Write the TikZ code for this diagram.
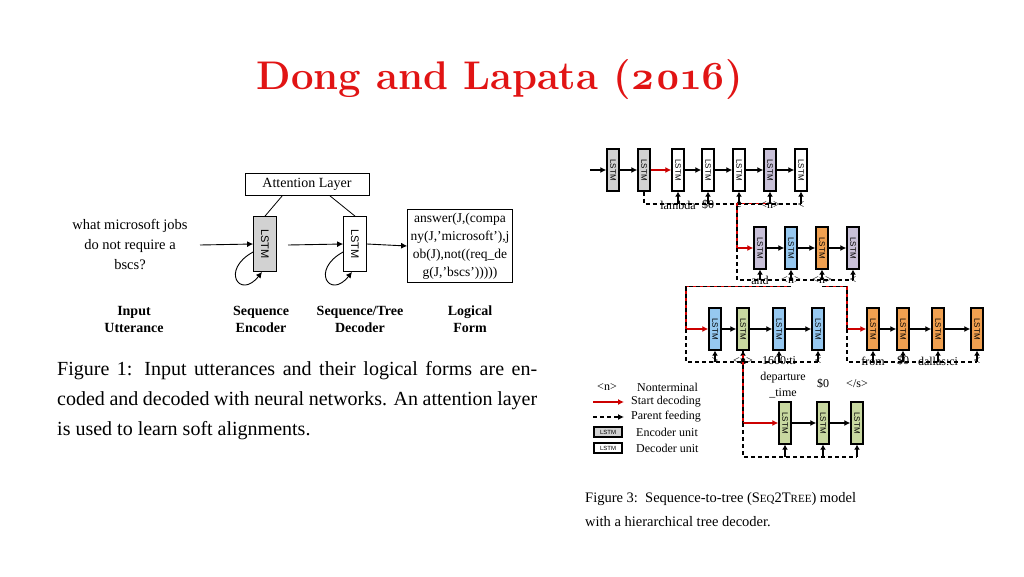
\documentclass[tikz,border=0pt]{standalone}
\usepackage{fontspec}
\setmainfont{Liberation Serif}
\setsansfont{Liberation Sans}
\newfontfamily\titlefont[Numbers=OldStyle]{Latin Modern Roman}
\usetikzlibrary{arrows.meta}
\definecolor{encg}{RGB}{210,210,210}
\definecolor{purp}{RGB}{200,192,216}
\definecolor{blu}{RGB}{150,200,240}
\definecolor{org}{RGB}{240,160,80}
\definecolor{grn}{RGB}{200,216,160}
\definecolor{ttl}{RGB}{225,20,20}
\newcommand\LS{\rotatebox{-90}{\sffamily\fontsize{8}{8}\selectfont LSTM}}
\begin{document}
\begin{tikzpicture}[x=1pt,y=-1pt,
 lstm/.style={draw,line width=1.4pt,minimum width=12pt,minimum height=42pt,inner sep=0pt,fill=#1},
 lstm/.default=white,
 ar/.style={-{Latex[length=6pt,width=6pt]},line width=1.2pt},
 rar/.style={ar,red!80!black},
 pf/.style={line width=1.2pt,dashed,dash pattern=on 4pt off 3pt},
 rb/.style={pf,preaction={draw,red!85!black,solid,line width=1.2pt}},
 up/.style={-{Latex[length=5pt,width=6pt]},line width=1.2pt},
 lab/.style={font=\fontsize{12}{12}\selectfont,inner sep=0pt},
 captext/.style={font=\fontsize{14.5}{14.5}\selectfont,inner sep=0pt,anchor=base west},
 bl/.style={font=\bfseries\fontsize{14}{17}\selectfont,align=center,inner sep=0pt}]
\useasboundingbox (0,0) rectangle (1024,576);
% title
\node[text=ttl,font=\titlefont\bfseries\fontsize{40}{40}\selectfont] (title) at (500,80) {Dong and Lapata (2016)};
% ---------- left diagram
\node[draw,line width=0.8pt,font=\fontsize{14}{14}\selectfont,minimum width=124pt,minimum height=22pt,inner sep=1pt] (att) at (307,184) {Attention Layer};
\node[draw,line width=0.8pt,fill=encg,minimum width=23pt,minimum height=55pt,inner sep=0pt] (enc) at (265,244) {\rotatebox{-90}{\sffamily\fontsize{11}{11}\selectfont LSTM}};
\node[draw,line width=0.8pt,fill=white,minimum width=23pt,minimum height=55pt,inner sep=0pt] (dec) at (355,244) {\rotatebox{-90}{\sffamily\fontsize{11}{11}\selectfont LSTM}};
\node[align=center,font=\fontsize{14.5}{20}\selectfont] (inp) at (130,244) {what microsoft jobs\\do not require a\\bscs?};
\node[draw,line width=0.8pt,align=center,font=\fontsize{13.5}{18}\selectfont,inner sep=3pt,minimum width=95pt] (lf) at (460,246) {answer(J,(compa\\ny(J,'microsoft'),j\\ob(J),not((req\_de\\g(J,'bscs')))))};
\draw[line width=0.8pt] (att.south west)++(38,0) -- (enc.north);
\draw[line width=0.8pt] (att.south east)++(-40,0) -- (dec.north);
\draw[ar,line width=0.9pt] (200,245) -- (enc.west);
\draw[ar,line width=0.9pt] (288,245) -- (dec.west);
\draw[ar,line width=0.9pt] (dec.east) -- (lf.west);
\draw[ar,line width=0.9pt] (enc.west)++(0,8) .. controls (220,270) and (240,300) .. ([xshift=-3pt]enc.south);
\draw[ar,line width=0.9pt] (dec.west)++(0,8) .. controls (310,270) and (330,300) .. ([xshift=-3pt]dec.south);
\node[bl] (l1) at (134,319) {Input\\Utterance};
\node[bl] (l2) at (261,319) {Sequence\\Encoder};
\node[bl] (l3) at (360,319) {Sequence/Tree\\Decoder};
\node[bl] (l4) at (470,319) {Logical\\Form};
\node[anchor=north west,text width=480pt,align=justify,font=\fontsize{20}{30}\selectfont,inner sep=0pt] (cap1) at (57,361) {Figure 1: Input utterances and their logical forms are encoded and decoded with neural networks. An attention layer is used to learn soft alignments.};
% ---------- right diagram
% row 1
\node[lstm=encg] (r11) at (613,170) {\LS}; \node[lstm=encg] (r12) at (644,170) {\LS};
\node[lstm] (r13) at (678,170) {\LS}; \node[lstm] (r14) at (708,170) {\LS}; \node[lstm] (r15) at (739,170) {\LS};
\node[lstm=purp] (r16) at (770,170) {\LS}; \node[lstm] (r17) at (801,170) {\LS};
\foreach \n/\t in {3/lambda,4/\$0,5/e,6/<n>,7/</s>} \node[lab] (t1\n) at ([yshift=-35]r1\n) {\t};
\coordinate (in1) at (590,170);
\draw[ar] (in1) -- (r11); \draw[ar] (r11) -- (r12); \draw[rar] (r12) -- (r13);
\draw[ar] (r13) -- (r14); \draw[ar] (r14) -- (r15); \draw[ar] (r15) -- (r16); \draw[ar] (r16) -- (r17);
\draw[pf] (r12.south) |- (801,204);
\foreach \n in {3,4,5,6,7} \draw[up] (r1\n.south |- 0,204) -- (r1\n.south);
% row 2
\node[lstm=purp] (r21) at (760,248) {\LS}; \node[lstm=blu] (r22) at (791,248) {\LS};
\node[lstm=org] (r23) at (822,248) {\LS}; \node[lstm=purp] (r24) at (853,248) {\LS};
\foreach \n/\t in {1/and,2/<n>,3/<n>,4/</s>} \node[lab] (t2\n) at ([yshift=-32]r2\n) {\t};
\draw[ar] (r21) -- (r22); \draw[ar] (r22) -- (r23); \draw[ar] (r23) -- (r24);
\draw[rb] (r16.south) ++(0,12) -| (737,248);
\draw[rar] (737,248) -- (r21);
\draw[pf] (737,248) |- (853,280);
\foreach \n in {1,2,3,4} \draw[up] (r2\n.south |- 0,280) -- (r2\n.south);
% row 3
\node[lstm=blu] (r31) at (715,329) {\LS}; \node[lstm=grn] (r32) at (743,329) {\LS};
\node[lstm=blu] (r33) at (779,329) {\LS}; \node[lstm=blu] (r34) at (818,329) {\LS};
\node[lstm=org] (r35) at (873,329) {\LS}; \node[lstm=org] (r36) at (903,329) {\LS};
\node[lstm=org] (r37) at (938,329) {\LS}; \node[lstm=org] (r38) at (977,329) {\LS};
\foreach \n/\t in {1/>,2/<n>,3/1600:ti,4/</s>,5/from,6/\$0,7/dallas:ci,8/</s>} \node[lab] (t3\n) at ([yshift=-32]r3\n) {\t};
\draw[ar] (r31) -- (r32); \draw[ar] (r32) -- (r33); \draw[ar] (r33) -- (r34);
\draw[ar] (r35) -- (r36); \draw[ar] (r36) -- (r37); \draw[ar] (r37) -- (r38);
\draw[rb] (r22.south) ++(0,17) -| (686,329);
\draw[rar] (686,329) -- (r31);
\draw[pf] (686,329) |- (818,362);
\foreach \n in {1,2,3,4} \draw[up] (r3\n.south |- 0,362) -- (r3\n.south);
\draw[rb] (r23.south) ++(0,17) -| (847,329);
\draw[rar] (847,329) -- (r35);
\draw[pf] (847,329) |- (977,362);
\foreach \n in {5,6,7,8} \draw[up] (r3\n.south |- 0,362) -- (r3\n.south);
\draw[rb] (r32.south) -- (743,423);
% row 4
\node[lstm=grn] (r41) at (785,423) {\LS}; \node[lstm=grn] (r42) at (823,423) {\LS}; \node[lstm=grn] (r43) at (857,423) {\LS};
\node[lab,align=center,font=\fontsize{12}{16}\selectfont] (t41) at (783,385) {departure\\\_time};
\node[lab] (t42) at (823,384) {\$0}; \node[lab] (t43) at (857,384) {</s>};
\draw[ar] (r41) -- (r42); \draw[ar] (r42) -- (r43);
\draw[rar] (743,423) -- (r41);
\draw[pf] (743,423) |- (857,457);
\foreach \n in {1,2,3} \draw[up] (r4\n.south |- 0,457) -- (r4\n.south);
% legend
\node[lab] (g1) at (607,387) {<n>};
\node[lab,anchor=west] (g1t) at (637,387) {Nonterminal};
\coordinate (g2a) at (593,402); \coordinate (g2b) at (624,402);
\draw[rar] (g2a) -- (g2b);
\node[lab,anchor=west] (g2t) at (631,402) {Start decoding};
\coordinate (g3a) at (593,417); \coordinate (g3b) at (624,417);
\draw[pf,-{Latex[length=6pt,width=6pt]}] (g3a) -- (g3b);
\node[lab,anchor=west] (g3t) at (631,417) {Parent feeding};
\node[draw,line width=1.2pt,fill=encg,minimum width=28pt,minimum height=10pt,inner sep=0pt,font=\sffamily\fontsize{6}{6}\selectfont] (g4) at (608,432) {LSTM};
\node[lab,anchor=west] (g4t) at (636,432) {Encoder unit};
\node[draw,line width=1.2pt,fill=white,minimum width=28pt,minimum height=10pt,inner sep=0pt,font=\sffamily\fontsize{6}{6}\selectfont] (g5) at (608,448) {LSTM};
\node[lab,anchor=west] (g5t) at (636,448) {Decoder unit};
% caption 3
\node[captext] (c31) at (585,502) {Figure 3:\ \ Sequence-to-tree (S{\fontsize{11}{11}\selectfont EQ}2T{\fontsize{11}{11}\selectfont REE}) model};
\node[captext] (c32) at (585,526) {with a hierarchical tree decoder.};
\end{tikzpicture}
\end{document}
